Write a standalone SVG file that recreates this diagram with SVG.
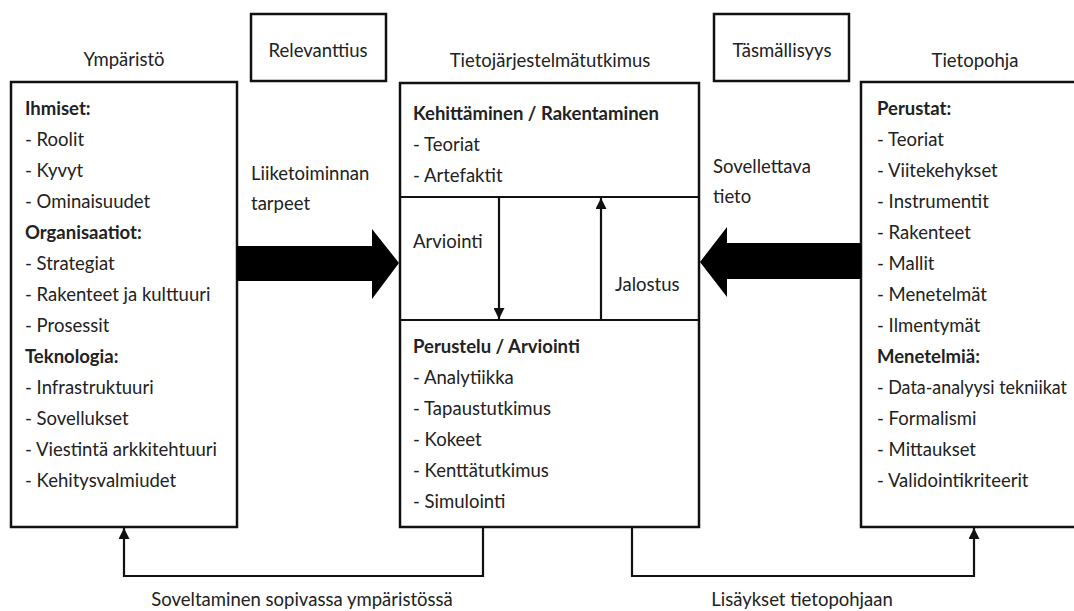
<svg xmlns="http://www.w3.org/2000/svg" width="1074" height="611" viewBox="0 0 1074 611">
  <defs>
    <style>
      .t { font-family: Lato, "Liberation Sans", sans-serif; font-size: 18.5px; fill: #222; }
      .b { font-weight: bold; }
      .m { text-anchor: middle; }
      .box { fill: #fff; stroke: #111; stroke-width: 2.5; }
      .ln { fill: none; stroke: #111; stroke-width: 2.2; }
      .big { fill: #000; stroke: none; }
    </style>
    <marker id="ah" viewBox="0 0 10 10" refX="10" refY="5" markerWidth="5" markerHeight="5" markerUnits="strokeWidth" orient="auto">
      <path d="M0,0 L10,5 L0,10 z" fill="#111"/>
    </marker>
  </defs>

  <rect width="1074" height="611" fill="#fff"/>

  <!-- column titles -->
  <text class="t m" x="124" y="66">Ympäristö</text>
  <text class="t m" x="550" y="67">Tietojärjestelmätutkimus</text>
  <text class="t m" x="975" y="67">Tietopohja</text>

  <!-- Relevanttius -->
  <g id="relevanttius">
    <rect class="box" x="251" y="14" width="135" height="67"/>
    <text class="t m" x="318" y="57">Relevanttius</text>
  </g>

  <!-- Täsmällisyys -->
  <g id="tasmallisyys">
    <rect class="box" x="714" y="14" width="135" height="67"/>
    <text class="t m" x="782" y="57">Täsmällisyys</text>
  </g>

  <!-- Ympäristö -->
  <g id="ymparisto">
    <rect class="box" x="11" y="82" width="226" height="445"/>
    <text class="t b" x="25" y="115">Ihmiset:</text>
    <text class="t" x="25" y="146">- Roolit</text>
    <text class="t" x="25" y="177">- Kyvyt</text>
    <text class="t" x="25" y="208">- Ominaisuudet</text>
    <text class="t b" x="25" y="239">Organisaatiot:</text>
    <text class="t" x="25" y="270">- Strategiat</text>
    <text class="t" x="25" y="301">- Rakenteet ja kulttuuri</text>
    <text class="t" x="25" y="332">- Prosessit</text>
    <text class="t b" x="25" y="363">Teknologia:</text>
    <text class="t" x="25" y="394">- Infrastruktuuri</text>
    <text class="t" x="25" y="425">- Sovellukset</text>
    <text class="t" x="25" y="456">- Viestintä arkkitehtuuri</text>
    <text class="t" x="25" y="487">- Kehitysvalmiudet</text>
  </g>

  <!-- Tietojärjestelmätutkimus -->
  <g id="tutkimus">
    <rect class="box" x="400" y="83" width="299" height="444"/>
    <line class="ln" x1="400" y1="197" x2="699" y2="197" stroke-width="2.5"/>
    <line class="ln" x1="400" y1="320" x2="699" y2="320" stroke-width="2.5"/>
    <text class="t b" x="413" y="120">Kehittäminen / Rakentaminen</text>
    <text class="t" x="413" y="151">- Teoriat</text>
    <text class="t" x="413" y="182">- Artefaktit</text>
    <text class="t" x="413" y="248">Arviointi</text>
    <text class="t" x="615" y="291">Jalostus</text>
    <text class="t b" x="413" y="353">Perustelu / Arviointi</text>
    <text class="t" x="413" y="384">- Analytiikka</text>
    <text class="t" x="413" y="415">- Tapaustutkimus</text>
    <text class="t" x="413" y="446">- Kokeet</text>
    <text class="t" x="413" y="477">- Kenttätutkimus</text>
    <text class="t" x="413" y="508">- Simulointi</text>
  </g>

  <!-- Tietopohja -->
  <g id="tietopohja">
    <rect class="box" x="861" y="82" width="220" height="445"/>
    <text class="t b" x="877" y="115">Perustat:</text>
    <text class="t" x="877" y="146">- Teoriat</text>
    <text class="t" x="877" y="177">- Viitekehykset</text>
    <text class="t" x="877" y="208">- Instrumentit</text>
    <text class="t" x="877" y="239">- Rakenteet</text>
    <text class="t" x="877" y="270">- Mallit</text>
    <text class="t" x="877" y="301">- Menetelmät</text>
    <text class="t" x="877" y="332">- Ilmentymät</text>
    <text class="t b" x="877" y="363">Menetelmiä:</text>
    <text class="t" x="877" y="394" textLength="190" lengthAdjust="spacingAndGlyphs">- Data-analyysi tekniikat</text>
    <text class="t" x="877" y="425">- Formalismi</text>
    <text class="t" x="877" y="456">- Mittaukset</text>
    <text class="t" x="877" y="487">- Validointikriteerit</text>
  </g>

  <!-- connectors -->
  <g id="connectors">
    <polygon class="big" points="237,246 372,246 372,229 399,263 372,299 372,281 237,281"/>
    <polygon class="big" points="861,243 727,243 727,227 700,262 727,297 727,279 861,279"/>
    <line class="ln" x1="499" y1="197" x2="499" y2="319" marker-end="url(#ah)"/>
    <line class="ln" x1="601" y1="320" x2="601" y2="198" marker-end="url(#ah)"/>
    <path class="ln" d="M483,527 V576 H124 V528" marker-end="url(#ah)"/>
    <path class="ln" d="M632,527 V576 H974 V528" marker-end="url(#ah)"/>
  </g>

  <!-- connector labels -->
  <text class="t" x="251" y="180">Liiketoiminnan</text>
  <text class="t" x="251" y="210">tarpeet</text>
  <text class="t" x="713" y="173">Sovellettava</text>
  <text class="t" x="713" y="203">tieto</text>
  <text class="t m" x="302" y="606">Soveltaminen sopivassa ympäristössä</text>
  <text class="t m" x="802" y="606">Lisäykset tietopohjaan</text>
</svg>
